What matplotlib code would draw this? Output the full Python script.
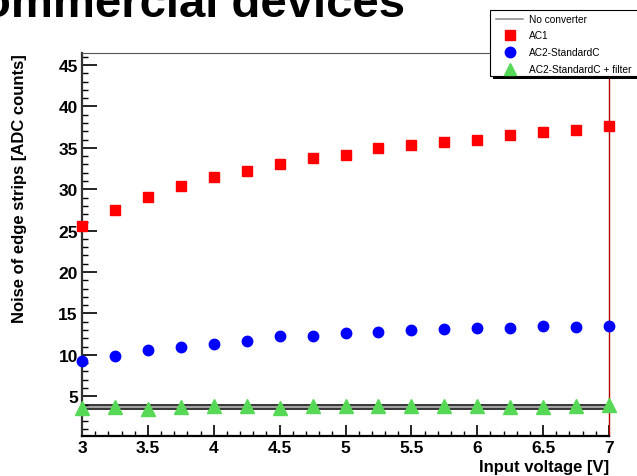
import matplotlib
matplotlib.use('Agg')
import matplotlib.pyplot as plt
from matplotlib.lines import Line2D
from matplotlib.patches import Rectangle
from matplotlib.ticker import MultipleLocator

# ---- data ----
voltage = [3.0, 3.25, 3.5, 3.75, 4.0, 4.25, 4.5, 4.75, 5.0, 5.25, 5.5, 5.75, 6.0, 6.25, 6.5, 6.75, 7.0]
ac1 = [25.6, 27.53, 29.1, 30.35, 31.44, 32.16, 33.08, 33.73, 34.16, 34.93, 35.33, 35.73, 35.97, 36.6, 36.94, 37.14, 37.62]
ac2_standardc = [9.24, 9.88, 10.6, 10.97, 11.33, 11.69, 12.25, 12.33, 12.6, 12.81, 12.98, 13.17, 13.26, 13.3, 13.46, 13.38, 13.5]
ac2_filter = [3.57, 3.69, 3.52, 3.69, 3.77, 3.77, 3.64, 3.77, 3.85, 3.77, 3.81, 3.85, 3.77, 3.73, 3.73, 3.85, 3.97]
no_converter_mean = 3.69
no_converter_err = 0.2
legend_labels = ["No converter", "AC1", "AC2-StandardC", "AC2-StandardC + filter"]
title = "Commercial devices"
xlabel = "Input voltage [V]"
ylabel = "Noise of edge strips [ADC counts]"

W, H = 637, 477
plt.rcParams['font.family'] = ['Liberation Sans', 'DejaVu Sans']
fig = plt.figure(figsize=(W / 100, H / 100), dpi=100)

def fx(px):
    return px / W

def fy(py):
    return 1 - py / H

ax = fig.add_axes([fx(82), fy(437), fx(609) - fx(82), fy(54) - fy(437)])

red = '#ff0000'
blue = '#0000ff'
green = '#57d957'

# No converter band
ax.axhline(no_converter_mean + no_converter_err, color='black', lw=1.1, zorder=1)
ax.axhline(no_converter_mean, color='#888888', lw=1.1, zorder=1)
ax.axhline(no_converter_mean - no_converter_err, color='black', lw=1.1, zorder=1)

ax.plot(voltage, ac1, linestyle='none', marker='s', ms=7.3, color=red, zorder=3, clip_on=False)
ax.plot(voltage, ac2_standardc, linestyle='none', marker='o', ms=7.5, color=blue, zorder=3, clip_on=False)
ax.plot(voltage, ac2_filter, linestyle='none', marker='^', ms=9.5, color=green, zorder=3, clip_on=False)

ax.set_xlim(3, 7)
ax.set_ylim(0.2, 46.45)

ax.xaxis.set_major_locator(MultipleLocator(0.5))
ax.xaxis.set_minor_locator(MultipleLocator(0.1))
ax.yaxis.set_major_locator(MultipleLocator(5))
ax.yaxis.set_minor_locator(MultipleLocator(1))

ax.tick_params(axis='x', which='major', direction='in', length=8, width=1.2, pad=3,
               labelsize=12.5, top=False)
ax.tick_params(axis='x', which='minor', direction='in', length=3.8, width=1.0, top=False)
ax.tick_params(axis='y', which='major', direction='in', length=11, width=1.2, pad=3,
               labelsize=12.5, right=False)
ax.tick_params(axis='y', which='minor', direction='in', length=4.5, width=1.0, right=False)

def fmt(v, pos):
    return '%g' % v
ax.xaxis.set_major_formatter(matplotlib.ticker.FuncFormatter(fmt))
ax.yaxis.set_major_formatter(matplotlib.ticker.FuncFormatter(fmt))
for lab in ax.get_xticklabels() + ax.get_yticklabels():
    lab.set_fontweight('bold')

ax.spines['left'].set_color('#333333')
ax.spines['left'].set_linewidth(1.6)
ax.spines['bottom'].set_color('black')
ax.spines['bottom'].set_linewidth(1.6)
ax.spines['top'].set_color('#555555')
ax.spines['top'].set_linewidth(0.8)
ax.spines['right'].set_color('#b00000')
ax.spines['right'].set_linewidth(1.0)

# axis titles
fig.text(fx(609), fy(472), xlabel, ha='right', va='baseline', fontsize=12, fontweight='bold')
fig.text(fx(20), fy(54), ylabel, ha='center', va='top', rotation=90, fontsize=12, fontweight='bold')

# title (cropped at top-left like reference)
fig.text(fx(-52), fy(17), title, ha='left', va='baseline', fontsize=34, fontweight='bold')

# legend box (manual, ROOT style with shadow)
shadow = Rectangle((fx(493), fy(80)), fx(160), fy(11) - fy(77), transform=fig.transFigure,
                   facecolor='black', edgecolor='none', zorder=10)
box = Rectangle((fx(490), fy(77)), fx(160), fy(11) - fy(77), transform=fig.transFigure,
                facecolor='white', edgecolor='black', lw=0.8, zorder=11)
fig.add_artist(shadow)
fig.add_artist(box)

ys = [20, 36, 53, 70]
fig.add_artist(Line2D([fx(496), fx(523)], [fy(ys[0]), fy(ys[0])], transform=fig.transFigure,
                      color='#888888', lw=1.1, zorder=12))
fig.add_artist(Line2D([fx(510)], [fy(ys[1])], transform=fig.transFigure, marker='s', ms=7.3,
                      color=red, linestyle='none', zorder=12))
fig.add_artist(Line2D([fx(510)], [fy(ys[2])], transform=fig.transFigure, marker='o', ms=7.5,
                      color=blue, linestyle='none', zorder=12))
fig.add_artist(Line2D([fx(510)], [fy(ys[3])], transform=fig.transFigure, marker='^', ms=9,
                      color=green, linestyle='none', zorder=12))
for lab, yy in zip(legend_labels, ys):
    fig.text(fx(529), fy(yy), lab, ha='left', va='center', fontsize=7.3, zorder=13)

fig.savefig('out.png', dpi=100)
